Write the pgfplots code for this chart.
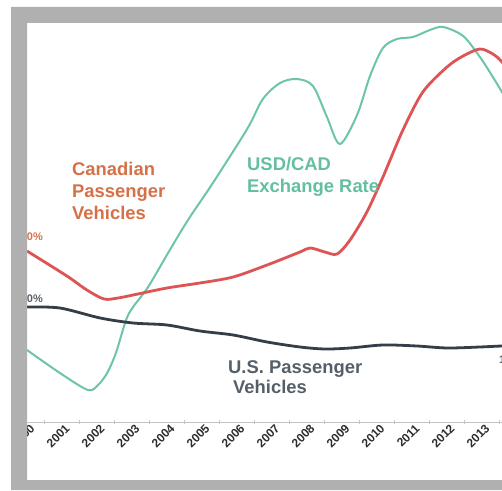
\documentclass[border=0pt]{standalone}
\usepackage{fontspec}
\setmainfont{Liberation Sans}
\usepackage{pgfplots}
\pgfplotsset{compat=1.18}

\definecolor{canline}{RGB}{222,84,84}
\definecolor{cantext}{RGB}{214,112,72}
\definecolor{fxline}{RGB}{108,196,170}
\definecolor{fxtext}{RGB}{100,190,160}
\definecolor{usline}{RGB}{52,62,72}
\definecolor{ustext}{RGB}{85,95,105}
\definecolor{frame}{RGB}{176,176,176}
\definecolor{axisgray}{RGB}{195,195,195}
\definecolor{ticktext}{RGB}{45,45,45}

% y = height above the category axis, in pixels of the original picture
\pgfplotstableread{
year     fx
2000.00   72
2000.94   49
2001.74   32
2002.03   37
2002.29   49
2002.54   69
2002.83  102
2003.03  115
2003.46  135
2004.03  169
2004.60  202
2005.31  239
2006.29  293
2006.74  323
2007.23  339
2007.71  343
2008.17  336
2008.57  305
2008.94  278
2009.43  307
2009.80  346
2010.17  374
2010.57  383
2011.03  385
2011.51  392
2011.89  395
2012.46  386
2012.94  365
2013.31  345
2013.57  330
2014.09  300
}\fxdata

\pgfplotstableread{
year     can
2000.00  171
2001.14  146
2001.71  132
2002.20  123
2002.60  124
2003.03  127
2004.00  134
2004.94  139
2005.89  145
2006.86  157
2007.80  170
2008.09  174
2008.51  170
2008.86  168
2009.23  182
2009.71  210
2010.17  245
2010.74  292
2011.31  330
2012.00  355
2012.46  366
2012.94  373
2013.31  368
2013.57  360
2014.09  337
}\candata

\pgfplotstableread{
year     us
2000.00  115
2000.94  114
2002.09  104
2003.03   99
2004.00   97
2004.94   91
2005.89   87
2006.86   80
2007.80   75
2008.51   73
2009.23   74
2010.17   77
2011.14   76
2012.00   74
2012.94   75
2013.57   76
2014.09   76
}\usdata

\begin{document}
\begin{tikzpicture}[x=1pt,y=1pt]
\useasboundingbox (0,0) rectangle (502,490);
\begin{axis}[
  at={(9.5pt,68pt)}, anchor=south west,
  scale only axis, width=525pt, height=399pt,
  xmin=1999.5, xmax=2014.5, ymin=0, ymax=399,
  axis x line=bottom, axis y line=none,
  x axis line style={axisgray, line width=1pt, -},
  xtick={2000,...,2014},
  xticklabels={2000,2001,2002,2003,2004,2005,2006,2007,2008,2009,2010,2011,2012,2013,2014},
  major tick length=0pt,
  minor xtick={2000.5,2001.5,...,2013.5},
  minor tick length=4pt,
  tick align=center,
  every minor tick/.style={axisgray, line width=0.8pt},
  xticklabel style={rotate=45, anchor=east, font=\bfseries\fontsize{12}{12}\selectfont,
    text=ticktext, inner sep=0pt, xshift=1pt, yshift=-7pt},
]
\addplot[fxline, line width=2pt, smooth] table[x=year, y=fx] {\fxdata};
\addplot[canline, line width=2.8pt, smooth] table[x=year, y=can] {\candata};
\addplot[usline, line width=2.8pt, smooth] table[x=year, y=us] {\usdata};
\end{axis}

% series labels
\begin{scope}[every node/.style={inner sep=0pt, font=\bfseries\fontsize{18.4}{20}\selectfont}]
\node[anchor=base west, text=cantext] at (72,314) {Canadian};
\node[anchor=base west, text=cantext] at (72,292) {Passenger};
\node[anchor=base west, text=cantext] at (72,270) {Vehicles};
\node[anchor=base west, text=fxtext] at (247,319) {USD/CAD};
\node[anchor=base west, text=fxtext] at (247,297) {Exchange Rate};
\node[anchor=base west, text=ustext] at (228,117) {U.S. Passenger};
\node[anchor=base west, text=ustext] at (233,97) {Vehicles};
\end{scope}

% data labels, mostly hidden by the frame
\begin{scope}[every node/.style={inner sep=0pt, font=\bfseries\fontsize{11}{11}\selectfont}]
\node[anchor=base east, text=cantext] at (43,249) {100\%};
\node[anchor=base east, text=ustext] at (43,188) {100\%};
\node[anchor=base west, text=ustext] at (499,127) {104\%};
\end{scope}

% screenshot frame
\fill[white] (0,0) rectangle (11,490);
\fill[white] (0,483) rectangle (502,490);
\fill[frame, even odd rule] (11,0) rectangle (520,483) (27,10) rectangle (520,467);
\end{tikzpicture}
\end{document}
